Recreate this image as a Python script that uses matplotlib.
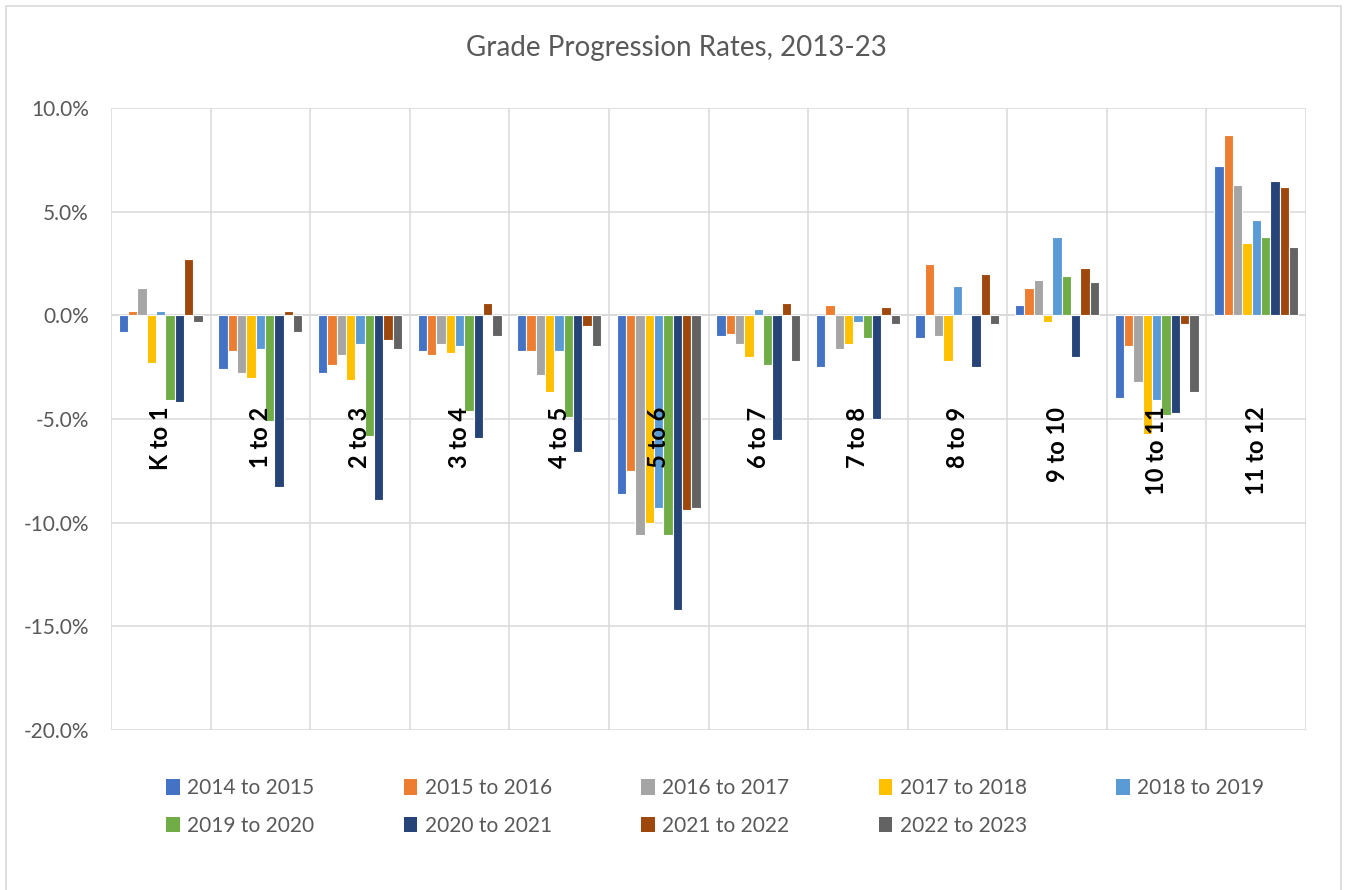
import numpy as np
import matplotlib
matplotlib.use("Agg")
import matplotlib.pyplot as plt
from matplotlib.patches import Rectangle, Patch

plt.rcParams['font.family'] = ['Lato', 'DejaVu Sans']

# grade transitions (categories)
grades = ["K to 1", "1 to 2", "2 to 3", "3 to 4", "4 to 5", "5 to 6",
          "6 to 7", "7 to 8", "8 to 9", "9 to 10", "10 to 11", "11 to 12"]

# progression rate in percent, one list per year pair
y2014_15 = [-0.8, -2.6, -2.8, -1.7, -1.7, -8.6, -1.0, -2.5, -1.1, 0.5, -4.0, 7.2]
y2015_16 = [0.2, -1.7, -2.4, -1.9, -1.7, -7.5, -0.9, 0.5, 2.5, 1.3, -1.5, 8.7]
y2016_17 = [1.3, -2.8, -1.9, -1.4, -2.9, -10.6, -1.4, -1.6, -1.0, 1.7, -3.2, 6.3]
y2017_18 = [-2.3, -3.0, -3.1, -1.8, -3.7, -10.0, -2.0, -1.4, -2.2, -0.3, -5.7, 3.5]
y2018_19 = [0.2, -1.6, -1.4, -1.5, -1.7, -9.3, 0.3, -0.3, 1.4, 3.8, -4.1, 4.6]
y2019_20 = [-4.1, -5.1, -5.8, -4.6, -4.9, -10.6, -2.4, -1.1, 0.0, 1.9, -4.8, 3.8]
y2020_21 = [-4.2, -8.3, -8.9, -5.9, -6.6, -14.2, -6.0, -5.0, -2.5, -2.0, -4.7, 6.5]
y2021_22 = [2.7, 0.2, -1.2, 0.6, -0.5, -9.4, 0.6, 0.4, 2.0, 2.3, -0.4, 6.2]
y2022_23 = [-0.3, -0.8, -1.6, -1.0, -1.5, -9.3, -2.2, -0.4, -0.4, 1.6, -3.7, 3.3]

series_names = ["2014 to 2015", "2015 to 2016", "2016 to 2017", "2017 to 2018",
                "2018 to 2019", "2019 to 2020", "2020 to 2021", "2021 to 2022",
                "2022 to 2023"]
series = [y2014_15, y2015_16, y2016_17, y2017_18, y2018_19,
          y2019_20, y2020_21, y2021_22, y2022_23]
colors = ["#4472C4", "#ED7D31", "#A5A5A5", "#FFC000", "#5B9BD5",
          "#70AD47", "#264478", "#9E480E", "#636363"]

fig = plt.figure(figsize=(13.52, 8.9), dpi=100)
ax = fig.add_axes([111/1352, 1 - 730/890, (1306-111)/1352, (730-108)/890])

# outer chart border
fig.patches.append(Rectangle((6/1352, -0.01), (1341-6)/1352, 1.01 - 6/890,
                             transform=fig.transFigure, fill=False,
                             edgecolor="#D9D9D9", linewidth=1.2))

x = np.arange(len(grades))
step = 0.0937
n = len(series)
for i in range(n):
    off = (i - (n-1)/2) * step
    ax.bar(x + off, series[i], width=step, color=colors[i],
           edgecolor="white", linewidth=0.8, zorder=3, label=series_names[i])

ax.set_xlim(-0.5, len(grades) - 0.5)
ax.set_ylim(-20, 10)
ax.set_yticks(np.arange(-20, 10.1, 5))
ax.set_yticklabels([f"{v:.1f}%" for v in np.arange(-20, 10.1, 5)])
ax.set_xticks(np.arange(len(grades) + 1) - 0.5)
ax.set_xticklabels([])
ax.tick_params(axis="both", length=0, labelsize=15, labelcolor="#595959")
ax.tick_params(axis="y", pad=16)
ax.grid(True, color="#D9D9D9", linewidth=1.1, zorder=0)
for s in ax.spines.values():
    s.set_visible(False)
ax.axhline(0, color="#D9D9D9", linewidth=1.1, zorder=2)

# category labels, rotated, inside the plot
for xi, g in zip(x, grades):
    ax.text(xi, -4.4, g, rotation=90, ha="center", va="top",
            fontsize=17, fontweight="bold", color="black", zorder=5)

fig.text(0.5, 1 - 48/890, "Grade Progression Rates, 2013-23",
         ha="center", va="center", fontsize=20, color="#595959")

# legend row-wise order
order = [0, 5, 1, 6, 2, 7, 3, 8, 4]
handles = [Patch(facecolor=colors[k], edgecolor="none") for k in order]
labels = [series_names[k] for k in order]
fig.legend(handles, labels, ncol=5, loc="center", bbox_to_anchor=(0.529, 1 - 807/890),
           frameon=False, fontsize=15, labelcolor="#595959",
           handlelength=0.65, handleheight=0.75, handletextpad=0.35,
           columnspacing=4.3, labelspacing=0.85)

fig.savefig("out.png", dpi=100)
